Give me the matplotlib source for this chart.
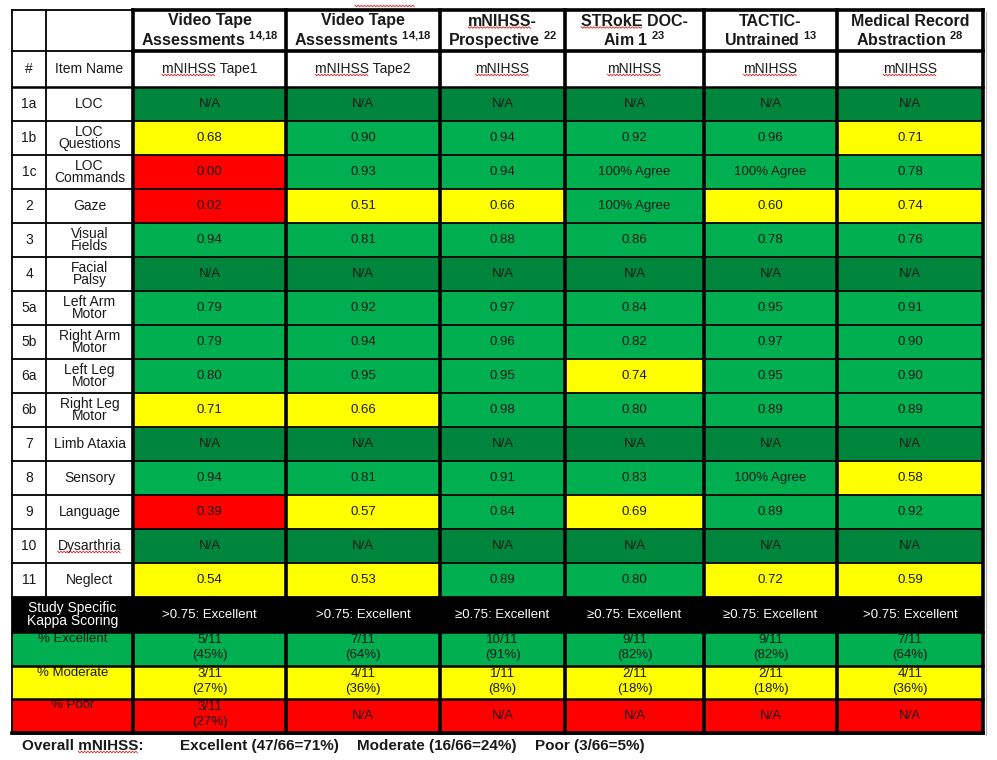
import numpy as np
import matplotlib
matplotlib.use("Agg")
import matplotlib.pyplot as plt
from matplotlib.patches import Rectangle

plt.rcParams['font.family'] = ['Liberation Sans', 'DejaVu Sans']
plt.rcParams['mathtext.fontset'] = 'custom'
plt.rcParams['mathtext.rm'] = 'Liberation Sans'
plt.rcParams['mathtext.bf'] = 'Liberation Sans:bold'

# --- data ---
item_num = ['1a', '1b', '1c', '2', '3', '4', '5a', '5b', '6a', '6b',
            '7', '8', '9', '10', '11']
item_name = ['LOC', 'LOC\nQuestions', 'LOC\nCommands', 'Gaze', 'Visual\nFields',
             'Facial\nPalsy', 'Left Arm\nMotor', 'Right Arm\nMotor', 'Left Leg\nMotor',
             'Right Leg\nMotor', 'Limb Ataxia', 'Sensory', 'Language', 'Dysarthria',
             'Neglect']

study_title = ['Video Tape\nAssessments',
               'Video Tape\nAssessments',
               'mNIHSS-\nProspective',
               'STRokE DOC-\nAim 1',
               'TACTIC-\nUntrained',
               'Medical Record\nAbstraction']
study_ref = ['14,18', '14,18', '22', '23', '13', '28']
scale_name = ['mNIHSS Tape1', 'mNIHSS Tape2', 'mNIHSS', 'mNIHSS', 'mNIHSS', 'mNIHSS']

tape1 = ['N/A', '0.68', '0.00', '0.02', '0.94', 'N/A', '0.79', '0.79', '0.80', '0.71',
         'N/A', '0.94', '0.39', 'N/A', '0.54']
tape2 = ['N/A', '0.90', '0.93', '0.51', '0.81', 'N/A', '0.92', '0.94', '0.95', '0.66',
         'N/A', '0.81', '0.57', 'N/A', '0.53']
prospective = ['N/A', '0.94', '0.94', '0.66', '0.88', 'N/A', '0.97', '0.96', '0.95', '0.98',
               'N/A', '0.91', '0.84', 'N/A', '0.89']
stroke_doc = ['N/A', '0.92', '100% Agree', '100% Agree', '0.86', 'N/A', '0.84', '0.82',
              '0.74', '0.80', 'N/A', '0.83', '0.69', 'N/A', '0.80']
tactic = ['N/A', '0.96', '100% Agree', '0.60', '0.78', 'N/A', '0.95', '0.97', '0.95',
          '0.89', 'N/A', '100% Agree', '0.89', 'N/A', '0.72']
med_record = ['N/A', '0.71', '0.78', '0.74', '0.76', 'N/A', '0.91', '0.90', '0.90', '0.89',
              'N/A', '0.58', '0.92', 'N/A', '0.59']
kappas = [tape1, tape2, prospective, stroke_doc, tactic, med_record]

scoring = ['>0.75: Excellent', '>0.75: Excellent', '\u22650.75: Excellent',
           '\u22650.75: Excellent', '\u22650.75: Excellent', '>0.75: Excellent']
pct_excellent = ['5/11\n(45%)', '7/11\n(64%)', '10/11\n(91%)', '9/11\n(82%)',
                 '9/11\n(82%)', '7/11\n(64%)']
pct_moderate = ['3/11\n(27%)', '4/11\n(36%)', '1/11\n(8%)', '2/11\n(18%)',
                '2/11\n(18%)', '4/11\n(36%)']
pct_poor = ['3/11\n(27%)', 'N/A', 'N/A', 'N/A', 'N/A', 'N/A']
summary_label = ['% Excellent', '% Moderate', '% Poor']
summary_rows = [pct_excellent, pct_moderate, pct_poor]

footer = ['Overall mNIHSS:', 'Excellent (47/66=71%)', 'Moderate (16/66=24%)',
          'Poor (3/66=5%)']

# --- colours ---
DARK_GREEN = '#00863c'
GREEN = '#00b050'
YELLOW = '#ffff00'
RED = '#ff0000'
TXT = '#1a1a1a'


def cell_colour(v):
    if v == 'N/A':
        return DARK_GREEN
    if 'Agree' in v:
        return GREEN
    k = float(v)
    if k < 0.4:
        return RED
    if k < 0.75:
        return YELLOW
    return GREEN


# --- layout (pixel grid) ---
col_x = [12, 46, 133, 286, 440, 565, 704, 837, 983]
row_h = 34
hdr_y = [10, 51, 87]
item_top = hdr_y[-1]
study_top = item_top + row_h * len(item_num)
sum_y = [study_top + 35, study_top + 69, study_top + 102, study_top + 136]

fig = plt.figure(figsize=(9.97, 7.6), dpi=100)
ax = fig.add_axes([0, 0, 1, 1])
ax.set_xlim(0, 997)
ax.set_ylim(760, 0)
ax.axis('off')

THICK = 2.6
MID = 1.8
THIN = 1.3

squiggle_words = []   # (text artist, word to underline)

# header cells
for j in range(6):
    x0, x1 = col_x[j + 2], col_x[j + 3]
    xc = (x0 + x1) / 2
    l1, l2 = study_title[j].split('\n')
    t1 = ax.text(xc, 21, l1, ha='center', va='center', fontsize=11.5,
                 fontweight='bold', color=TXT)
    ax.text(xc, 40, l2 + r' $^{\mathbf{' + study_ref[j].replace(',', '{,}') + '}}$',
            ha='center', va='center', fontsize=11.5, fontweight='bold', color=TXT)
    if l1.startswith('mNIHSS'):
        squiggle_words.append((t1, 'mNIHSS'))
    if l1.startswith('STRokE'):
        squiggle_words.append((t1, 'STRokE'))
    t2 = ax.text(xc, (hdr_y[1] + hdr_y[2]) / 2, scale_name[j], ha='center', va='center',
                 fontsize=10, color=TXT)
    squiggle_words.append((t2, 'mNIHSS'))

ax.text((col_x[0] + col_x[1]) / 2, (hdr_y[1] + hdr_y[2]) / 2, '#', ha='center',
        va='center', fontsize=10, color=TXT)
ax.text((col_x[1] + col_x[2]) / 2, (hdr_y[1] + hdr_y[2]) / 2, 'Item Name',
        ha='center', va='center', fontsize=10, color=TXT)

# item rows
for i in range(len(item_num)):
    y0 = item_top + i * row_h
    yc = y0 + row_h / 2
    ax.text((col_x[0] + col_x[1]) / 2, yc, item_num[i], ha='center', va='center',
            fontsize=10, color=TXT)
    tn = ax.text((col_x[1] + col_x[2]) / 2, yc, item_name[i], ha='center', va='center',
                 fontsize=10, color=TXT, linespacing=0.9)
    if item_name[i] == 'Dysarthria':
        squiggle_words.append((tn, 'Dysarthria'))
    for j in range(6):
        v = kappas[j][i]
        x0, x1 = col_x[j + 2], col_x[j + 3]
        ax.add_patch(Rectangle((x0, y0), x1 - x0, row_h, facecolor=cell_colour(v),
                               edgecolor='none', zorder=1))
        ax.text((x0 + x1) / 2, yc, v, ha='center', va='center', fontsize=9.5, color=TXT)

# kappa scoring row
ax.add_patch(Rectangle((col_x[0], study_top), col_x[-1] - col_x[0], sum_y[0] - study_top,
                       facecolor='black', edgecolor='none', zorder=1))
ax.text((col_x[0] + col_x[2]) / 2, (study_top + sum_y[0]) / 2,
        'Study Specific\nKappa Scoring', ha='center', va='center', fontsize=10,
        color='white', linespacing=0.9)
for j in range(6):
    x0, x1 = col_x[j + 2], col_x[j + 3]
    ax.text((x0 + x1) / 2, (study_top + sum_y[0]) / 2, scoring[j], ha='center',
            va='center', fontsize=9.5, color='white')

# summary rows
sum_colours = [GREEN, YELLOW, RED]
for r in range(3):
    y0, y1 = sum_y[r], sum_y[r + 1]
    ax.add_patch(Rectangle((col_x[0], y0), col_x[-1] - col_x[0], y1 - y0,
                           facecolor=sum_colours[r], edgecolor='none', zorder=1))
    ax.text((col_x[0] + col_x[2]) / 2, y0 + 6.5, summary_label[r], ha='center',
            va='center', fontsize=9.5, color=TXT)
    for j in range(6):
        x0, x1 = col_x[j + 2], col_x[j + 3]
        s = summary_rows[r][j]
        if '\n' in s:
            a, b = s.split('\n')
            ax.text((x0 + x1) / 2, y0 + 8, a, ha='center', va='center', fontsize=9.5,
                    color=TXT)
            ax.text((x0 + x1) / 2, y0 + 23, b, ha='center', va='center', fontsize=9.5,
                    color=TXT)
        else:
            ax.text((x0 + x1) / 2, (y0 + y1) / 2, s, ha='center', va='center',
                    fontsize=9.5, color=TXT)

# grid lines
bottom = sum_y[-1]
kw = dict(color='black', zorder=3, solid_capstyle='projecting')
# horizontal
ax.plot([col_x[0], col_x[2]], [hdr_y[0]] * 2, lw=THIN, **kw)
ax.plot([col_x[2], col_x[-1]], [hdr_y[0]] * 2, lw=THICK, **kw)
ax.plot([col_x[0], col_x[2]], [hdr_y[1]] * 2, lw=THIN, **kw)
ax.plot([col_x[2], col_x[-1]], [hdr_y[1]] * 2, lw=THICK, **kw)
ax.plot([col_x[0], col_x[-1]], [hdr_y[2]] * 2, lw=MID, **kw)
for i in range(1, len(item_num) + 1):
    ax.plot([col_x[0], col_x[-1]], [item_top + i * row_h] * 2, lw=THIN, **kw)
for y in sum_y:
    ax.plot([col_x[0], col_x[-1]], [y, y], lw=MID, **kw)
ax.plot([col_x[0], col_x[-1]], [bottom, bottom], lw=THICK, **kw)
# vertical
ax.plot([col_x[0]] * 2, [hdr_y[0], bottom], lw=THIN, **kw)
ax.plot([col_x[1]] * 2, [hdr_y[0], study_top], lw=THIN, **kw)
for x in col_x[2:]:
    ax.plot([x, x], [hdr_y[0], bottom], lw=THICK, **kw)

# light shadow at right edge
ax.plot([col_x[-1] + 3] * 2, [hdr_y[0] + 2, bottom + 2], color='#b0b0b0', lw=0.8)

# footer
foot_x = [22, 180, 357, 535]
foot_txt = []
for s, x in zip(footer, foot_x):
    foot_txt.append(ax.text(x, 746, s, ha='left', va='center', fontsize=11,
                            fontweight='bold', color=TXT))
squiggle_words.append((foot_txt[0], 'mNIHSS'))


# red spell-check squiggles under some words
def squiggle(xa, xb, y):
    xs = np.arange(xa, xb, 1.6)
    ys = y + np.where(np.arange(len(xs)) % 2 == 0, -0.8, 0.8)
    ax.plot(xs, ys, color='#e02020', lw=0.6, zorder=4)


fig.canvas.draw()
rend = fig.canvas.get_renderer()
inv = ax.transData.inverted()
for t, word in squiggle_words:
    full = t.get_text()
    bb = inv.transform(t.get_window_extent(rend))
    left, bot_y = bb[0, 0], max(bb[0, 1], bb[1, 1])
    if '\n' in full:
        # multi-line centred text: word sits on its own line
        tmp = ax.text(0, 0, word, fontsize=t.get_fontsize(), fontweight=t.get_fontweight())
        wb = inv.transform(tmp.get_window_extent(rend))
        tmp.remove()
        w = wb[1, 0] - wb[0, 0]
        xc = (bb[0, 0] + bb[1, 0]) / 2
        squiggle(xc - w / 2, xc + w / 2, bot_y - 1)
        continue
    start = full.index(word)
    tmp = ax.text(0, 0, full[:start + len(word)], fontsize=t.get_fontsize(),
                  fontweight=t.get_fontweight())
    wb = inv.transform(tmp.get_window_extent(rend))
    tmp.remove()
    w_end = wb[1, 0] - wb[0, 0]
    w_start = 0
    if start > 0:
        tmp = ax.text(0, 0, full[:start], fontsize=t.get_fontsize(),
                      fontweight=t.get_fontweight())
        sb = inv.transform(tmp.get_window_extent(rend))
        tmp.remove()
        w_start = sb[1, 0] - sb[0, 0]
    squiggle(left + w_start, left + w_end, bot_y - 1)

# stray spell-check mark above the second header
squiggle((col_x[3] + col_x[4]) / 2 - 8, (col_x[3] + col_x[4]) / 2 + 52, 6)

fig.savefig('out.png', dpi=100)
